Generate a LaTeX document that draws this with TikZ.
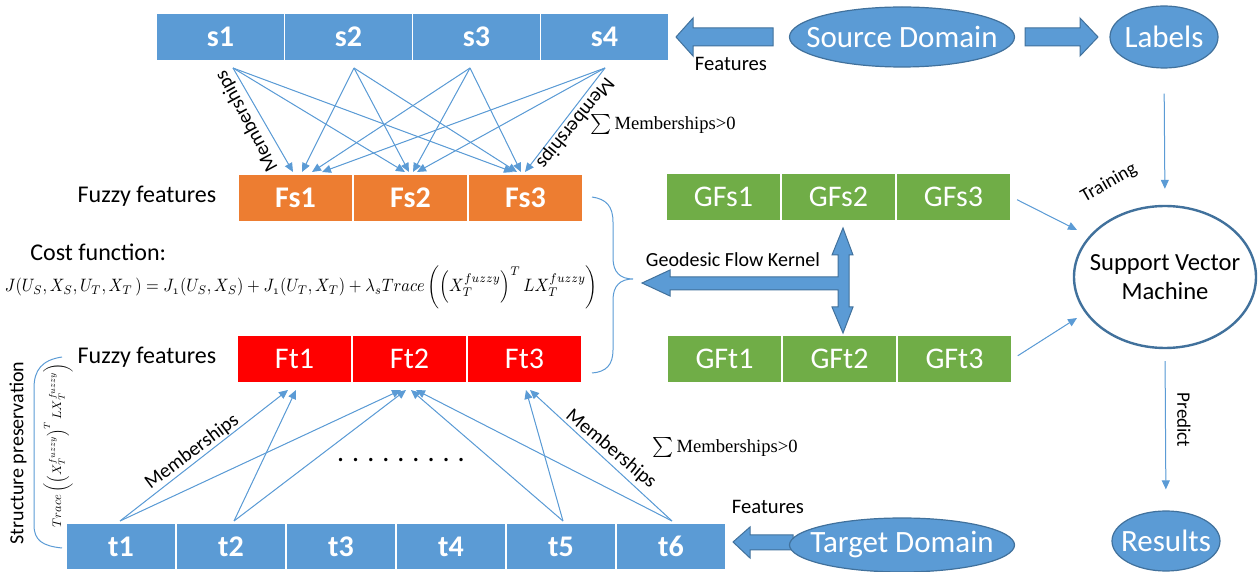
\documentclass[tikz,border=0pt]{standalone}
\usepackage{graphicx}
\usepackage{fontspec}
\setmainfont{Carlito}
\newfontfamily\tmsfont{Liberation Serif}
\usetikzlibrary{arrows.meta,shapes.geometric,calc}
\definecolor{sblue}{HTML}{5B9BD5}
\definecolor{dblue}{HTML}{41719C}
\definecolor{forange}{HTML}{ED7D31}
\definecolor{fred}{HTML}{FF0000}
\definecolor{fgreen}{HTML}{70AD47}
\tikzset{
  cell/.style={draw=white, line width=0.7pt, text=white, minimum height=24pt, inner sep=0pt, font=\fontsize{15}{18}\selectfont},
  scell/.style={cell, fill=sblue, minimum width=64pt, font=\bfseries\fontsize{15}{18}\selectfont},
  tcell/.style={cell, fill=sblue, minimum width=55pt, minimum height=23.5pt, font=\bfseries\fontsize{15}{18}\selectfont},
  fscell/.style={cell, fill=forange, minimum width=57.5pt, font=\bfseries\fontsize{15}{18}\selectfont},
  ftcell/.style={cell, fill=fred, minimum width=57.5pt},
  gcell/.style={cell, fill=fgreen, minimum width=57.5pt},
  conn/.style={draw=sblue, line width=0.5pt, -{Triangle[length=4.5pt,width=4pt]}, fill=sblue},
  plain/.style={draw=sblue, line width=0.5pt},
  blockarrow/.style={fill=sblue, draw=dblue, line width=0.5pt},
  dom/.style={ellipse, fill=sblue, draw=dblue, line width=0.6pt, text=white, inner sep=0pt, font=\fontsize{15.5}{18}\selectfont},
  lbl/.style={inner sep=0pt, text=black, font=\fontsize{10}{12}\selectfont},
  tms/.style={inner sep=0pt, text=black, font=\tmsfont\fontsize{9.3}{11}\selectfont},
}
\newcommand{\fzy}{\mathnormal{fuzzy}}
\begin{document}
\begin{tikzpicture}[x=0.5pt,y=-0.5pt]
\useasboundingbox (0,0) rectangle (1260,572);

% ---------- cells ----------
\node[scell] (s1) at (220.5,37) {s1};
\node[scell] (s2) at (348.5,37) {s2};
\node[scell] (s3) at (476.5,37) {s3};
\node[scell] (s4) at (604.5,37) {s4};

\node[fscell] (Fs1) at (295.5,198) {Fs1};
\node[fscell] (Fs2) at (410.5,198) {Fs2};
\node[fscell] (Fs3) at (525.5,198) {Fs3};

\node[ftcell] (Ft1) at (294.5,359) {Ft1};
\node[ftcell] (Ft2) at (409.5,359) {Ft2};
\node[ftcell] (Ft3) at (524.5,359) {Ft3};

\node[tcell] (t1) at (121,546.5) {t1};
\node[tcell] (t2) at (231,546.5) {t2};
\node[tcell] (t3) at (341,546.5) {t3};
\node[tcell] (t4) at (451,546.5) {t4};
\node[tcell] (t5) at (561,546.5) {t5};
\node[tcell] (t6) at (671,546.5) {t6};

\node[gcell] (GFs1) at (723.5,197) {GFs1};
\node[gcell] (GFs2) at (838.5,197) {GFs2};
\node[gcell] (GFs3) at (953.5,197) {GFs3};
\node[gcell] (GFt1) at (724.5,359) {GFt1};
\node[gcell] (GFt2) at (839.5,359) {GFt2};
\node[gcell] (GFt3) at (954.5,359) {GFt3};

% ---------- source -> fuzzy source memberships ----------
\coordinate (s1o) at (233,68);
\coordinate (s2o) at (354,68);
\coordinate (s3o) at (470,68);
\coordinate (s4o) at (605,68);
\coordinate (f1a) at (293,172); \coordinate (f1b) at (302,172);
\coordinate (f1c) at (312,172); \coordinate (f1d) at (322,172);
\coordinate (f2a) at (405,172); \coordinate (f2b) at (409,172);
\coordinate (f2c) at (413,172); \coordinate (f2d) at (417,172);
\coordinate (f3a) at (513,172); \coordinate (f3b) at (517,172);
\coordinate (f3c) at (521,172); \coordinate (f3d) at (525,172);
\foreach \s/\a/\b/\c in {s1o/f1a/f2a/f3a, s2o/f1b/f2b/f3b, s3o/f1c/f2c/f3c, s4o/f1d/f2d/f3d}{
  \draw[conn] (\s) -- (\a);
  \draw[conn] (\s) -- (\b);
  \draw[conn] (\s) -- (\c);
}

% ---------- target -> fuzzy target memberships ----------
\coordinate (t1o) at (120,521);
\coordinate (t2o) at (234,521);
\coordinate (t5o) at (563,521);
\coordinate (t6o) at (672,521);
\coordinate (g1a) at (288,390); \coordinate (g1b) at (296,390);
\coordinate (g2a) at (401,390); \coordinate (g2b) at (406,390);
\coordinate (g2c) at (411,390); \coordinate (g2d) at (416,390);
\coordinate (g3a) at (526,390); \coordinate (g3b) at (530,390);
\draw[conn] (t1o) -- (g1a);
\draw[conn] (t1o) -- (g2a);
\draw[conn] (t2o) -- (g1b);
\draw[conn] (t2o) -- (g2b);
\draw[conn] (t5o) -- (g2c);
\draw[conn] (t5o) -- (g3a);
\draw[conn] (t6o) -- (g2d);
\draw[conn] (t6o) -- (g3b);

% ---------- domains ----------
\draw[blockarrow] (676,37) -- (693,18) -- (693,28) -- (773,28) -- (773,46) -- (693,46) -- (693,56) -- cycle;
\draw[blockarrow] (1025,28) -- (1080,28) -- (1080,18) -- (1098,37) -- (1080,56) -- (1080,46) -- (1025,46) -- cycle;
\draw[blockarrow] (733,542) -- (750,527) -- (750,535) -- (793,535) -- (793,550) -- (750,550) -- (750,558) -- cycle;

\node[dom, minimum width=112.5pt, minimum height=30pt] (src) at (902,37) {\makebox[0pt]{Source Domain}};
\node[dom, minimum width=54pt, minimum height=31pt] (labels) at (1164,37) {\makebox[0pt]{Labels}};
\node[dom, minimum width=112.5pt, minimum height=27pt] (tgt) at (902,545) {\makebox[0pt]{Target Domain}};
\node[dom, minimum width=54pt, minimum height=30pt] (res) at (1166,541) {\makebox[0pt]{Results}};

\node[ellipse, draw=dblue, line width=1.2pt, fill=white, minimum width=91pt, minimum height=71pt, inner sep=0pt] (svm) at (1165,277) {};
\node[inner sep=0pt, align=center, font=\fontsize{12.3}{14.5}\selectfont] (svmtxt) at (svm.center) {Support Vector\\Machine};

\node[lbl, font=\fontsize{10.3}{12}\selectfont] (feat1) at (731,64) {Features};
\node[lbl, font=\fontsize{10.3}{12}\selectfont] (feat2) at (768,507) {Features};

% ---------- geodesic flow kernel ----------
\draw[blockarrow] (843,228) -- (853,255) -- (849,255) -- (849,307) -- (853,307) -- (843,333) -- (832,307) -- (838,307) -- (838,290) -- (670,290) -- (670,296) -- (642,283) -- (670,270) -- (670,277) -- (838,277) -- (838,255) -- (832,255) -- cycle;
\node[lbl] (gfk) at (733,260) {Geodesic Flow Kernel};

% ---------- SVM connections ----------
\draw[conn, shorten <=12.5pt, shorten >=8pt] (labels.south) -- (svm.north);
\draw[conn, shorten <=6pt, shorten >=10.5pt] (svm.south) -- (res.north);
\coordinate (svmA) at (1077,230);
\coordinate (svmB) at (1077,318);
\draw[conn, shorten <=3pt] (GFs3.east) -- (svmA);
\draw[conn, shorten <=3pt] (GFt3.east) -- (svmB);
\node[lbl, font=\fontsize{9.5}{11}\selectfont, rotate=29.6] (train) at (1109,183) {Training};
\node[lbl, font=\fontsize{9.5}{11}\selectfont, rotate=-90] (pred) at (1184,420) {Predict};

% ---------- braces ----------
\draw[plain] (592,197) .. controls (606,199) and (613,206) .. (613,222) -- (613,258) .. controls (613,272) and (620,279) .. (633,279) .. controls (620,279) and (613,286) .. (613,300) -- (613,350) .. controls (613,365) and (606,372) .. (592,373);
\draw[plain] (62,357) .. controls (42,360) and (34,370) .. (34,388) -- (34,525) .. controls (34,540) and (42,546) .. (62,548);

% ---------- texts ----------
\node[lbl, font=\fontsize{12}{14}\selectfont] (ff1) at (147,196) {Fuzzy features};
\node[lbl, font=\fontsize{12}{14}\selectfont] (ff2) at (147,357) {Fuzzy features};
\node[lbl, font=\fontsize{12}{14}\selectfont, anchor=west] (costl) at (30,252) {Cost function:};
\node[inner sep=0pt] (cost) at (301.5,287) {\scalebox{1}[1.1]{\resizebox{296.5pt}{!}{$J(U_S,X_S,U_T,X_T\,)=J_{\mathnormal{1}}(U_S,X_S)+J_{\mathnormal{1}}(U_T,X_T)+\lambda_s \mathnormal{Trace}\left(\left(X_T^{\fzy}\right)^{T} L X_T^{\fzy}\right)$}}};

\node[lbl, rotate=90, font=\fontsize{10}{12}\selectfont] (strp) at (18,453) {Structure preservation};
\node[inner sep=0pt, rotate=90] (trc) at (58,445) {\resizebox{82pt}{!}{$\mathnormal{Trace}\left(\left(X_T^{\fzy}\right)^{T} L X_T^{\fzy}\right)$}};

\node[lbl, rotate=118.5] (m1) at (247,121) {Memberships};
\node[lbl, rotate=-129] (m2) at (575,123) {Memberships};
\node[lbl, rotate=36.7] (m3) at (192,452) {Memberships};
\node[lbl, rotate=-40] (m4) at (611,449) {Memberships};

\node[tms] (sum1) at (663,125) {$\sum$\,Memberships>0};
\node[tms] (sum2) at (725,448) {$\sum$\,Memberships>0};

\node[lbl, font=\fontsize{14}{14}\selectfont] (dots) at (401,460) {.\hspace{4pt}.\hspace{4pt}.\hspace{4pt}.\hspace{4pt}.\hspace{4pt}.\hspace{4pt}.\hspace{4pt}.\hspace{4pt}.};
\end{tikzpicture}
\end{document}
